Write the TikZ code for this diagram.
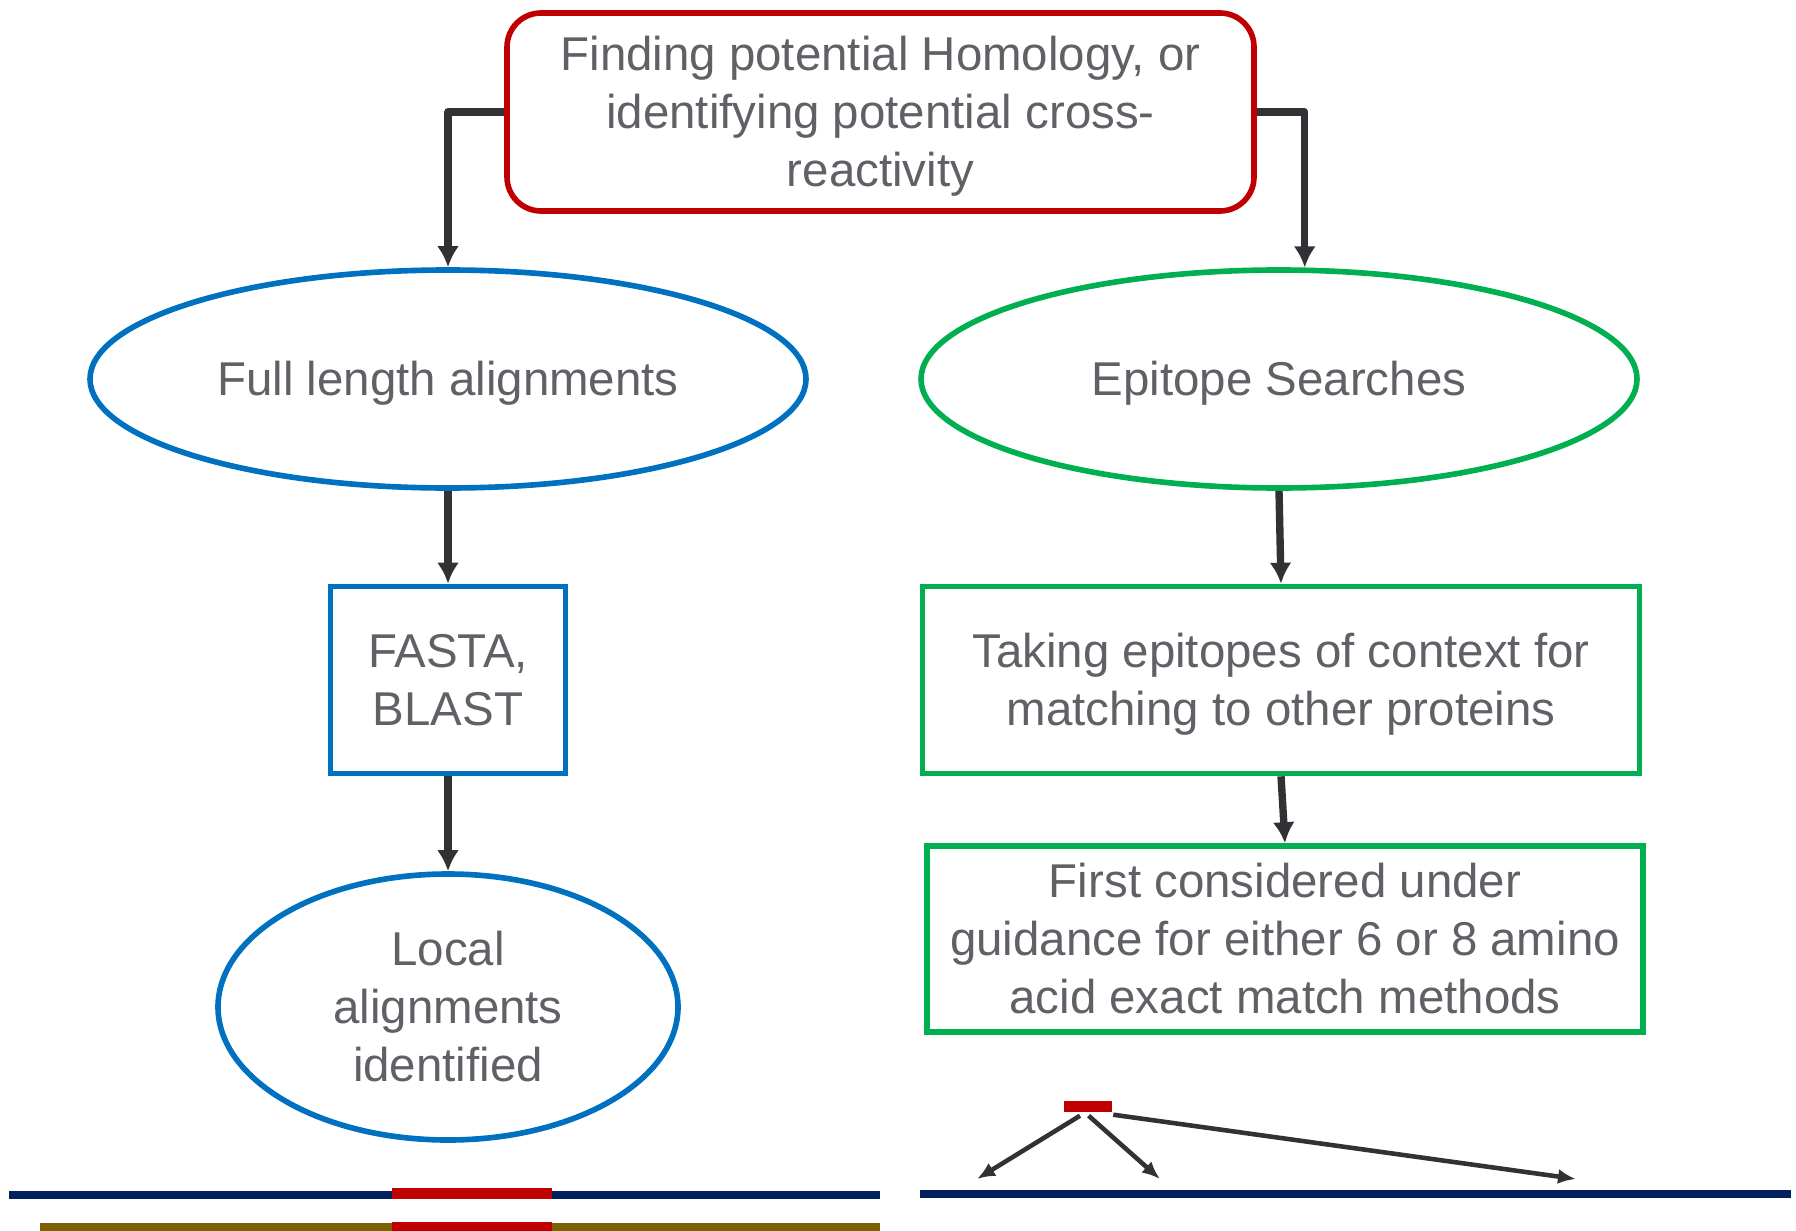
\documentclass[tikz,border=0pt]{standalone}
\usepackage{fontspec}
\setmainfont{Liberation Sans}
\usetikzlibrary{arrows.meta,shapes.geometric}
\definecolor{FlowRed}{RGB}{192,0,0}
\definecolor{FlowBlue}{RGB}{0,112,192}
\definecolor{FlowGreen}{RGB}{0,176,80}
\definecolor{FlowNavy}{RGB}{0,32,96}
\definecolor{FlowBrown}{RGB}{127,96,0}
\definecolor{FlowText}{RGB}{96,97,102}
\definecolor{FlowArrow}{RGB}{50,50,54}
% full ascent of the first line
\newcommand{\headstrut}{\rule{0pt}{12.2pt}}

\tikzset{
  lbl/.style={text=FlowText,font=\fontsize{13.5}{16.5}\selectfont,align=center,inner sep=0pt},
  goalbox/.style={lbl,draw=FlowRed,line width=1.6pt,rounded corners=0.34cm,
    minimum width=7.47cm,minimum height=1.98cm},
  oval/.style={lbl,ellipse,line width=1.6pt},
  stepbox/.style={lbl,draw,line width=1.6pt,minimum height=1.87cm},
  flow/.style={-{Latex[length=0.21cm,width=0.22cm]},FlowArrow,line width=2.1pt,line join=round},
  hit/.style={-{Latex[length=0.18cm,width=0.15cm]},FlowArrow,line width=1.3pt}
}

\begin{document}
\begin{tikzpicture}
\useasboundingbox (0,0) rectangle (17.96,-12.30);

\node[goalbox] (goal) at (8.805,-1.12)
  {\headstrut Finding potential Homology, or\\identifying potential cross-\\reactivity};

\node[oval,draw=FlowBlue,minimum width=7.16cm,minimum height=2.18cm] (full) at (4.48,-3.79)
  {\headstrut Full length alignments};
\node[oval,draw=FlowGreen,minimum width=7.16cm,minimum height=2.18cm] (epi) at (12.79,-3.79)
  {\headstrut Epitope Searches};

\node[stepbox,draw=FlowBlue,minimum width=2.35cm] (tool) at (4.48,-6.80) {FASTA,\\BLAST};
\node[oval,draw=FlowBlue,minimum width=4.60cm,minimum height=2.66cm] (local) at (4.48,-10.07)
  {Local\\alignments\\identified};

\node[stepbox,draw=FlowGreen,minimum width=7.17cm] (take) at (12.81,-6.80)
  {\headstrut Taking epitopes of context for\\matching to other proteins};
\node[stepbox,draw=FlowGreen,minimum width=7.16cm,minimum height=1.86cm] (first) at (12.85,-9.39)
  {First considered under\\guidance for either 6 or 8 amino\\acid exact match methods};

\draw[flow] (goal.west) -| (full.north);
\draw[flow] (goal.east) -| (epi.77.3);
\draw[flow] (full.south) -- (tool.north);
\draw[flow] (tool.south) -- (local.north);
\draw[flow] (epi.south) -- (take.north);
\draw[flow] (take.south) -- (first.north);

% aligned sequences, matched region in red
\fill[FlowNavy] (0.09,-11.910) rectangle (8.80,-11.987);
\fill[FlowRed] (3.92,-11.883) rectangle (5.52,-11.987);
\fill[FlowBrown] (0.40,-12.227) rectangle (8.80,-12.31);
\fill[FlowRed] (3.92,-12.217) rectangle (5.52,-12.31);

% short epitope matched along a protein
\fill[FlowNavy] (9.20,-11.900) rectangle (17.91,-11.977);
\node[fill=FlowRed,inner sep=0pt,minimum width=0.48cm,minimum height=0.11cm] (mark) at (10.88,-11.065) {};
\coordinate (spotA) at (9.77,-11.79);
\coordinate (spotB) at (11.60,-11.79);
\coordinate (spotC) at (15.76,-11.79);
\draw[hit] ([shift={(-0.08,-0.03)}]mark.south) -- (spotA);
\draw[hit] ([shift={(0.006,-0.03)}]mark.south) -- (spotB);
\draw[hit] ([shift={(0.006,-0.02)}]mark.south east) -- (spotC);
\end{tikzpicture}
\end{document}
